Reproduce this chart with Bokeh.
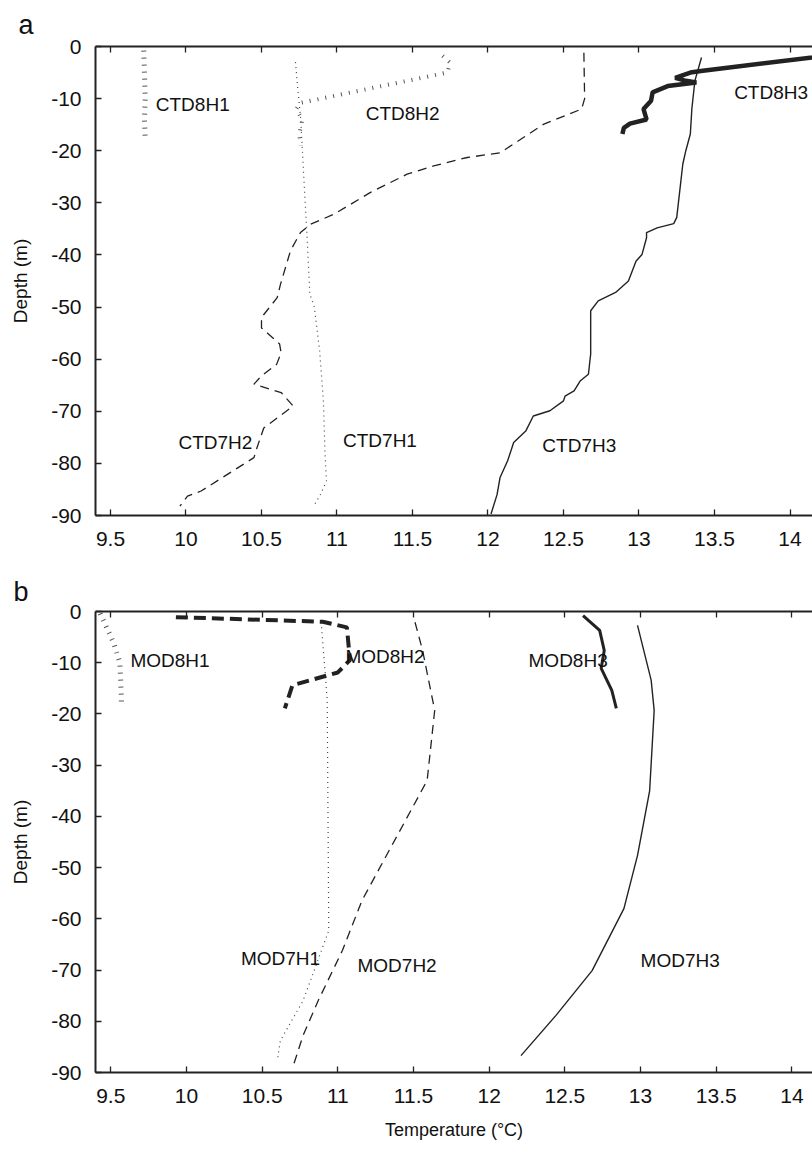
from bokeh.plotting import figure
from bokeh.models import Range1d, LinearAxis, FixedTicker, CustomJSTickFormatter
from bokeh.layouts import column
from bokeh.embed import file_html
from bokeh.resources import INLINE
from bokeh.core.properties import value

FONT = "Liberation Sans"
INK = "#222222"

# ---------------- data : panel a (CTD) ----------------
ctd8h1_t = [9.72, 9.725, 9.73, 9.725, 9.73]
ctd8h1_d = [-0.8, -5.0, -10.0, -14.0, -17.7]

ctd8h2_t = [11.70, 11.75, 11.73, 10.76, 10.73, 10.77, 10.75, 10.76]
ctd8h2_d = [-1.8, -3.1, -5.0, -10.8, -12.0, -14.0, -17.0, -19.0]

ctd8h3_t = [14.40, 13.41, 13.34, 13.24, 13.30, 13.38, 13.19, 13.09, 13.08, 13.03, 13.05, 12.94, 12.90, 12.89]
ctd8h3_d = [-1.2, -4.7, -5.0, -6.0, -6.5, -6.9, -7.6, -8.8, -10.4, -12.0, -14.0, -14.8, -15.6, -16.8]

ctd7h1_t = [10.725, 10.74, 10.76, 10.78, 10.80, 10.82, 10.85, 10.885, 10.91, 10.92, 10.93, 10.89, 10.845]
ctd7h1_d = [-3.0, -8.0, -14.0, -25.0, -35.4, -47.5, -50.0, -58.4, -68.0, -77.6, -83.4, -86.0, -88.2]

ctd7h2_t = [12.635, 12.64, 12.62, 12.37, 12.08, 11.862, 11.641, 11.464, 11.222, 10.979, 10.825, 10.758,
            10.692, 10.626, 10.604, 10.50, 10.50, 10.62, 10.63, 10.60, 10.50, 10.45, 10.63, 10.71,
            10.515, 10.47, 10.45, 10.10, 10.01, 9.96]
ctd7h2_d = [-1.2, -10.0, -12.0, -14.9, -20.4, -21.3, -22.9, -24.5, -28.0, -32.2, -34.1, -35.7,
            -39.2, -45.6, -48.2, -52.0, -54.0, -57.1, -58.8, -61.0, -63.2, -64.8, -66.4, -69.0,
            -73.2, -77.0, -78.9, -85.3, -86.3, -88.2]

ctd7h3_t = [13.414, 13.37, 13.35, 13.34, 13.31, 13.29, 13.275, 13.25, 13.23, 13.12, 13.05, 13.05, 13.02,
            12.98, 12.93, 12.845, 12.73, 12.68, 12.68, 12.68, 12.665, 12.61, 12.57, 12.51, 12.50,
            12.41, 12.30, 12.25, 12.17, 12.13, 12.08, 12.06, 12.02]
ctd7h3_d = [-2.1, -6.6, -12.0, -16.8, -20.0, -22.6, -26.4, -32.8, -34.0, -34.8, -35.7, -36.7, -39.9,
            -41.2, -45.0, -47.2, -48.8, -50.7, -57.8, -59.0, -62.9, -64.2, -66.1, -67.1, -68.0,
            -69.9, -70.9, -73.8, -76.0, -79.5, -82.7, -86.0, -89.7]

labels_a = ["CTD8H1", "CTD8H2", "CTD8H3", "CTD7H2", "CTD7H1", "CTD7H3"]
labels_a_t = [9.80, 11.19, 13.63, 9.95, 11.04, 12.36]
labels_a_d = [-11.2, -12.8, -8.85, -76.0, -75.6, -76.5]

# ---------------- data : panel b (MOD) ----------------
mod8h1_t = [9.43, 9.52, 9.56, 9.57, 9.57]
mod8h1_d = [-0.4, -6.2, -10.0, -16.7, -18.5]

mod8h2_t = [9.93, 10.9, 11.06, 11.08, 11.0, 10.70, 10.65]
mod8h2_d = [-1.1, -2.0, -3.1, -9.5, -11.9, -14.4, -18.9]

mod8h3_t = [12.62, 12.73, 12.76, 12.74, 12.81, 12.84]
mod8h3_d = [-0.8, -3.7, -7.6, -11.1, -15.4, -18.9]

mod7h1_t = [10.89, 10.93, 10.94, 10.77, 10.62, 10.60]
mod7h1_d = [-2.1, -17.3, -62.3, -76.0, -83.8, -87.7]

mod7h2_t = [11.51, 11.56, 11.64, 11.59, 11.16, 11.03, 10.87, 10.77, 10.70]
mod7h2_d = [-2.1, -7.6, -19.3, -33.0, -56.4, -66.2, -76.0, -82.8, -89.2]

mod7h3_t = [12.98, 13.07, 13.09, 13.06, 12.98, 12.89, 12.68, 12.44, 12.21]
mod7h3_d = [-2.7, -13.4, -19.3, -35.0, -47.6, -58.0, -70.1, -78.9, -86.7]

labels_b = ["MOD8H1", "MOD8H2", "MOD8H3", "MOD7H1", "MOD7H2", "MOD7H3"]
labels_b_t = [9.63, 11.05, 12.26, 10.36, 11.13, 13.00]
labels_b_d = [-9.6, -8.7, -9.6, -67.8, -69.1, -68.2]

x_ticks = [9.5, 10, 10.5, 11, 11.5, 12, 12.5, 13, 13.5, 14]
y_ticks = [0, -10, -20, -30, -40, -50, -60, -70, -80, -90]

STYLES = {
    "8H1": dict(line_width=5, line_dash="1 6", line_color="#555555", line_cap="butt"),
    "8H2a": dict(line_width=4, line_dash="1 7", line_color="#555555", line_cap="butt"),
    "8H2b": dict(line_width=4, line_dash="12 6", line_color=INK, line_cap="butt"),
    "8H3a": dict(line_width=4.5, line_color=INK),
    "8H3b": dict(line_width=3, line_color=INK),
    "7H1": dict(line_width=1.2, line_dash="1 4", line_color="#444444"),
    "7H2": dict(line_width=1.3, line_dash="9 6", line_color=INK),
    "7H3": dict(line_width=1.4, line_color=INK),
}


def make_panel(height, left, top, bottom, x0, x1, letter, letter_offset, letter_standoff, xlabel=None):
    p = figure(width=812, height=height, x_range=Range1d(x0, x1), y_range=Range1d(-90, 0),
               output_backend="svg", toolbar_location=None, title=letter,
               min_border_left=left, min_border_right=0, min_border_top=top, min_border_bottom=bottom,
               x_axis_location=None, y_axis_location=None)
    p.outline_line_color = None
    p.grid.visible = False
    p.background_fill_color = "white"
    p.border_fill_color = "white"
    p.title.align = "left"
    p.title.offset = letter_offset
    p.title.standoff = letter_standoff
    p.title.text_font = FONT
    p.title.text_font_size = "27px"
    p.title.text_font_style = "normal"
    p.title.text_color = "#111111"

    fmt = CustomJSTickFormatter(code="return tick.toString()")
    blank = CustomJSTickFormatter(code="return ''")
    xb = LinearAxis(ticker=FixedTicker(ticks=x_ticks), formatter=fmt)
    yl = LinearAxis(ticker=FixedTicker(ticks=y_ticks), formatter=fmt)
    xt = LinearAxis(ticker=FixedTicker(ticks=x_ticks), formatter=blank)
    for ax in (xb, yl, xt):
        ax.axis_line_width = 2
        ax.axis_line_color = INK
        ax.major_tick_line_color = INK
        ax.major_tick_line_width = 1.3
        ax.major_tick_in = 6
        ax.major_tick_out = 0
        ax.minor_tick_line_color = None
        ax.major_label_text_font = FONT
        ax.major_label_text_color = "#111111"
        ax.axis_label_text_font = FONT
        ax.axis_label_text_font_style = "normal"
        ax.axis_label_text_color = "#111111"
    xb.major_label_text_font_size = "21px"
    xb.major_label_standoff = 16
    yl.major_label_text_font_size = "21px"
    yl.major_label_standoff = 14
    yl.axis_label = "Depth (m)"
    yl.axis_label_text_font_size = "19px"
    yl.axis_label_standoff = 17
    if xlabel:
        xb.axis_label = xlabel
        xb.axis_label_text_font_size = "18px"
        xb.axis_label_standoff = 14
    xt.major_label_standoff = 0
    xt.major_label_text_font_size = "8px"
    p.add_layout(xb, "below")
    p.add_layout(yl, "left")
    p.add_layout(xt, "above")
    return p


p1 = make_panel(566, 95, 46, 51, 9.4007, 14.149, "a", -77, 14)
p1.line(ctd7h2_t, ctd7h2_d, **STYLES["7H2"])
p1.line(ctd7h1_t, ctd7h1_d, **STYLES["7H1"])
p1.line(ctd7h3_t, ctd7h3_d, **STYLES["7H3"])
p1.line(ctd8h1_t, ctd8h1_d, **STYLES["8H1"])
p1.line(ctd8h2_t, ctd8h2_d, **STYLES["8H2a"])
p1.line(ctd8h3_t, ctd8h3_d, **STYLES["8H3a"])
p1.text(x=labels_a_t, y=labels_a_d, text=labels_a, text_font=value(FONT), text_font_size="19px",
        text_color="#111111", text_baseline="middle", text_align="left")

p2 = make_panel(584, 92, 45, 78, 9.399, 14.136, "b", -82, 10)
p2.line(mod7h2_t, mod7h2_d, **STYLES["7H2"])
p2.line(mod7h1_t, mod7h1_d, **STYLES["7H1"])
p2.line(mod7h3_t, mod7h3_d, **STYLES["7H3"])
p2.line(mod8h1_t, mod8h1_d, **STYLES["8H1"])
p2.line(mod8h2_t, mod8h2_d, **STYLES["8H2b"])
p2.line(mod8h3_t, mod8h3_d, **STYLES["8H3b"])
p2.text(x=labels_b_t, y=labels_b_d, text=labels_b, text_font=value(FONT), text_font_size="19px",
        text_color="#111111", text_baseline="middle", text_align="left")
p2.below[0].axis_label = "Temperature (°C)"
p2.below[0].axis_label_text_font_size = "18px"
p2.below[0].axis_label_standoff = 14

layout = column(p1, p2, spacing=0)
open("out.html", "w").write(file_html(layout, INLINE))
